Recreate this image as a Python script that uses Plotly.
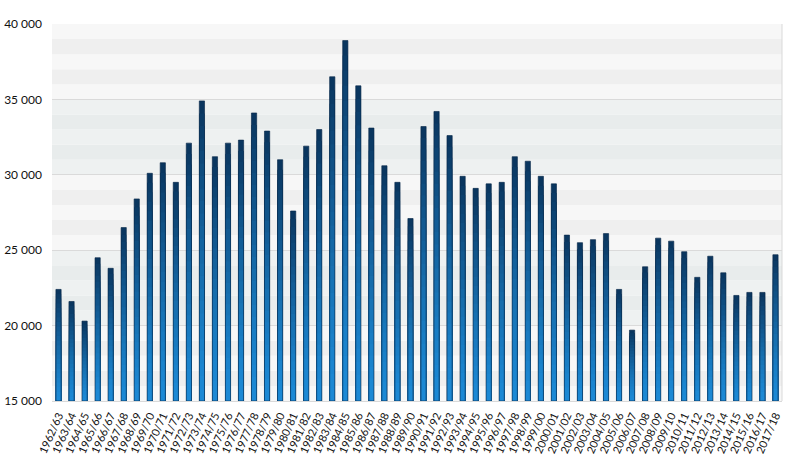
import plotly.graph_objects as go

seasons = ["1962/63","1963/64","1964/65","1965/66","1966/67","1967/68","1968/69","1969/70",
           "1970/71","1971/72","1972/73","1973/74","1974/75","1975/76","1976/77","1977/78",
           "1978/79","1979/80","1980/81","1981/82","1982/83","1983/84","1984/85","1985/86",
           "1986/87","1987/88","1988/89","1989/90","1990/91","1991/92","1992/93","1993/94",
           "1994/95","1995/96","1996/97","1997/98","1998/99","1999/00","2000/01","2001/02",
           "2002/03","2003/04","2004/05","2005/06","2006/07","2007/08","2008/09","2009/10",
           "2010/11","2011/12","2012/13","2013/14","2014/15","2015/16","2016/17","2017/18"]
values = [22400, 21600, 20300, 24500, 23800, 26500, 28400, 30100,
          30800, 29500, 32100, 34900, 31200, 32100, 32300, 34100,
          32900, 31000, 27600, 31900, 33000, 36500, 38900, 35900,
          33100, 30600, 29500, 27100, 33200, 34200, 32600, 29900,
          29100, 29400, 29500, 31200, 30900, 29900, 29400, 26000,
          25500, 25700, 26100, 22400, 19700, 23900, 25800, 25600,
          24900, 23200, 24600, 23500, 22000, 22200, 22200, 24700]
y_ticks = [15000, 20000, 25000, 30000, 35000, 40000]
y_tick_labels = ["15 000", "20 000", "25 000", "30 000", "35 000", "40 000"]

y_min, y_max = 15000, 40000

dark = (10, 52, 92)
light = (28, 138, 214)

def mix(t):
    # t=1 top (dark), t=0 bottom (light)
    c = [round(light[k] + (dark[k] - light[k]) * t) for k in range(3)]
    return f"rgb({c[0]},{c[1]},{c[2]})"

N = 24
fig = go.Figure()
for i in range(N):
    frac = 1 - i / N
    fig.add_trace(go.Bar(
        x=seasons,
        y=[(v - y_min) * frac for v in values],
        base=y_min,
        marker=dict(color=mix((1 - (i + 0.5) / N) ** 1.3), line=dict(width=0)),
        hoverinfo="skip",
        showlegend=False,
    ))
# outline
fig.add_trace(go.Bar(
    x=seasons,
    y=[v - y_min for v in values],
    base=y_min,
    marker=dict(color="rgba(0,0,0,0)", line=dict(color="rgba(8,40,72,0.8)", width=0.8)),
    showlegend=False,
))

shapes = []
for lo in range(y_min, y_max, 1000):
    k = (y_max - lo) // 1000 - 1  # 0 for top band
    block = (y_max - 1 - lo) // 5000  # 0 top block
    tinted = block in (1, 3)
    if tinted:
        col = "#e8ecec" if k % 2 == 0 else "#eef1f1"
    else:
        col = "#f7f7f7" if k % 2 == 0 else "#efefef"
    shapes.append(dict(type="rect", xref="paper", yref="y", x0=0, x1=1, y0=lo, y1=lo + 1000,
                       fillcolor=col, line=dict(width=0), layer="below"))
shapes.append(dict(type="line", xref="paper", yref="paper", x0=1, x1=1, y0=0, y1=1,
                   line=dict(color="#d9d9d9", width=1)))

fig.update_layout(
    width=800, height=459,
    margin=dict(l=52, r=18, t=24, b=58),
    paper_bgcolor="white", plot_bgcolor="white",
    barmode="overlay", bargap=0.6,
    shapes=shapes,
    font=dict(family="Lato, Liberation Sans, sans-serif", size=11, color="#111"),
    xaxis=dict(tickangle=-66, showgrid=False, showline=True, linecolor="#d9d9d9",
               ticks="", dtick=1, tickmode="linear",
               tickfont=dict(size=11, family="Lato, sans-serif"),
               ticklabelstandoff=3, automargin=False),
    yaxis=dict(range=[y_min, y_max], tickvals=y_ticks, ticktext=y_tick_labels,
               showgrid=True, gridcolor="#dadada", gridwidth=1, zeroline=False,
               ticks="", ticklabelstandoff=9, tickfont=dict(size=12),
               automargin=False),
)

fig.write_html("out.html")
